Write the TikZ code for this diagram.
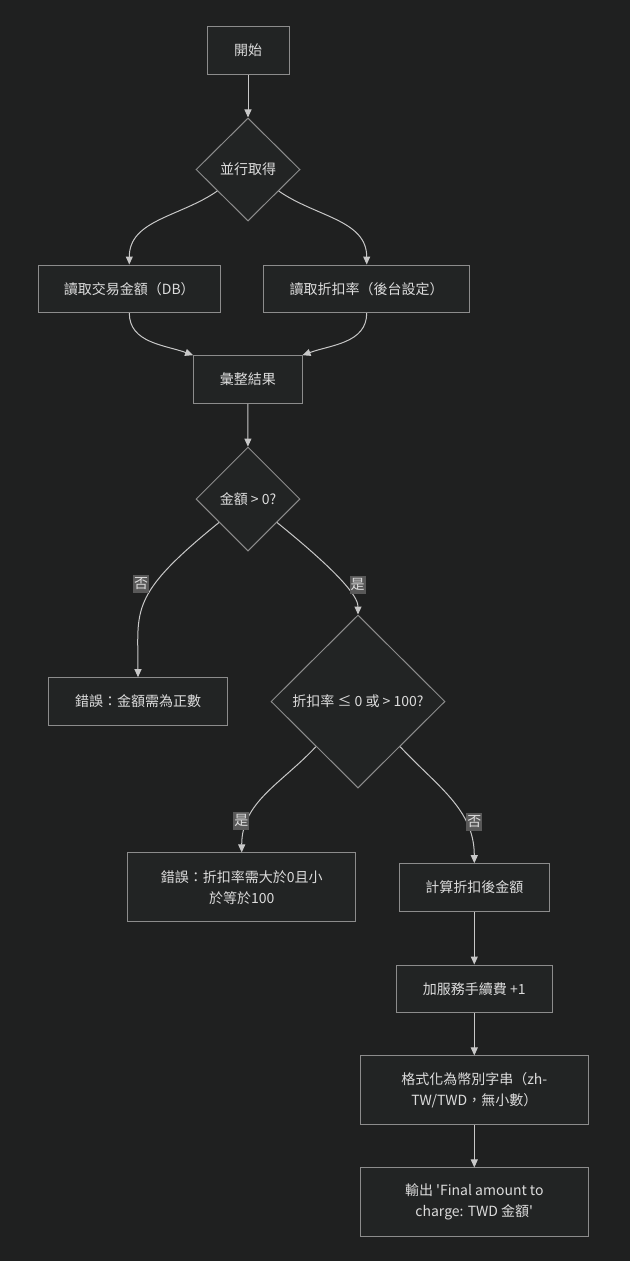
\documentclass[tikz,border=0pt]{standalone}
\usepackage{fontspec}
\setmainfont{Noto Sans CJK TC}[Ligatures=TeXOff]
\usepackage{tikz}
\usetikzlibrary{
  arrows.meta,
  positioning,
  shapes.geometric
}
\definecolor{fundo}{HTML}{1F2020}
\definecolor{caixafill}{HTML}{222424}
\definecolor{borda}{HTML}{8C8C8C}
\definecolor{linha}{HTML}{C8C8C8}
\definecolor{texto}{HTML}{DCDCDC}
\definecolor{rotfill}{HTML}{595959}

\begin{document}
\begin{tikzpicture}[
      x=1pt, y=-1pt,
      >={Triangle[length=8pt,width=7pt]},
      passo/.style={draw=borda, fill=caixafill, line width=1pt, minimum height=47.6pt, inner sep=0pt, align=center, text=texto, font=\fontsize{14}{21}\selectfont},
      decisao/.style={diamond, draw=borda, fill=caixafill, line width=1pt, inner sep=0pt, align=center, text=texto, font=\fontsize{14}{21}\selectfont},
      seta/.style={->, line width=1pt, linha},
      rot/.style={fill=rotfill, text=texto, inner xsep=1pt, inner ysep=3pt, font=\fontsize{14}{16}\selectfont}
  ]
      % fundo
      \fill[fundo] (0,0) rectangle (630,1261);
      \useasboundingbox (0,0) rectangle (630,1261);

      % Etapas
      \node[passo, minimum width=82pt] (ini) at (248,50.5) {開始};
      \node[decisao, minimum width=104pt, minimum height=103pt] (par) at (248,169.5) {並行取得};
      \node[passo, minimum width=181.4pt] (amt) at (129.3,288.8) {讀取交易金額（DB）};
      \node[passo, minimum width=206.5pt] (disc) at (366.7,288.8) {讀取折扣率（後台設定）};
      \node[passo, minimum width=108.4pt] (merge) at (247.8,379.5) {彙整結果};
      \node[decisao, minimum width=104pt, minimum height=104pt] (chkamt) at (248,499) {金額 > 0?};
      \node[passo, minimum width=178.8pt] (erramt) at (138,701.5) {錯誤：金額需為正數};
      \node[decisao, minimum width=174pt, minimum height=173pt] (chkdisc) at (358,701.5) {折扣率 ≤ 0 或 > 100?};
      \node[passo, minimum width=227.8pt, minimum height=68.7pt] (errdisc) at (241.7,887.3) {錯誤：折扣率需大於0且小\\於等於100};
      \node[passo, minimum width=150.6pt] (calc) at (474.3,887.5) {計算折扣後金額};
      \node[passo, minimum width=155.5pt] (fee) at (474.3,988.8) {加服務手續費 +1};
      \node[passo, minimum width=227.8pt, minimum height=68.7pt] (fmt) at (474.3,1090.3) {格式化為幣別字串（zh-\\TW/TWD，無小數）};
      \node[passo, minimum width=227.8pt, minimum height=68.7pt] (outp) at (474.3,1202.3) {輸出 'Final amount to\\charge: TWD 金額'};

      % Ligações
      \draw[seta] (ini) -- (par);
      \draw[seta] (par) to[out=-145, in=90] (amt.north);
      \draw[seta] (par) to[out=-35, in=90] (disc.north);
      \draw[seta] (amt.south) to[out=-90, in=160] (merge.north west);
      \draw[seta] (disc.south) to[out=-90, in=20] (merge.north east);
      \draw[seta] (merge) -- (chkamt);
      \draw[seta] (chkamt) to[out=-141, in=90, out looseness=1.7] node[rot, pos=0.36, xshift=-14pt] {否} (erramt.north);
      \draw[seta] (chkamt) to[out=-39, in=90, out looseness=2, in looseness=0.3] node[rot, pos=0.5, xshift=12pt, yshift=1pt] {是} (chkdisc.north);
      \draw[seta] (chkdisc) to[out=-133, in=90] node[rot, pos=0.75, xshift=-7pt, yshift=-1pt] {是} (errdisc.north);
      \draw[seta] (chkdisc) to[out=-47, in=90] node[rot, pos=0.72, xshift=8pt, yshift=2pt] {否} (calc.north);
      \draw[seta] (calc) -- (fee);
      \draw[seta] (fee) -- (fmt);
      \draw[seta] (fmt) -- (outp);

  \end{tikzpicture}
\end{document}
